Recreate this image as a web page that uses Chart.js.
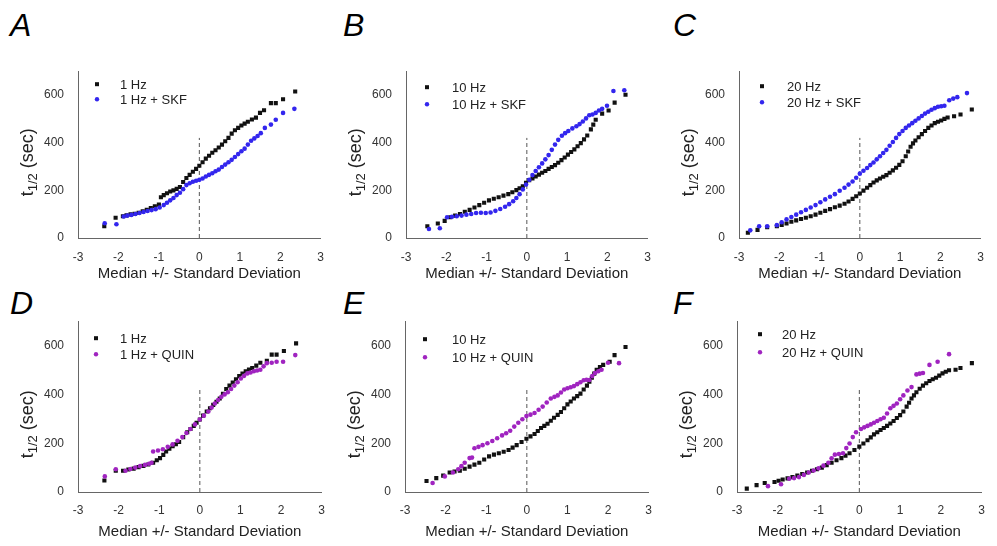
<!DOCTYPE html>
<html>
<head>
<meta charset="utf-8">
<script src="https://cdn.jsdelivr.net/npm/chart.js@4.4.1/dist/chart.umd.min.js"></script>
<style>
  html, body { margin: 0; padding: 0; background: #fff; }
  body { width: 997px; height: 546px; position: relative; overflow: hidden; }
  canvas { position: absolute; }
  .letter { position: absolute; font: italic 32px Arial, "Liberation Sans", sans-serif; line-height: 32px; color: #000; }
</style>
</head>
<body>
<div class="letter" style="left:10px;top:9px">A</div>
<div class="letter" style="left:343px;top:9px">B</div>
<div class="letter" style="left:673px;top:9px">C</div>
<div class="letter" style="left:10px;top:287px">D</div>
<div class="letter" style="left:343px;top:287px">E</div>
<div class="letter" style="left:673px;top:287px">F</div>
<canvas id="cA"></canvas>
<canvas id="cB"></canvas>
<canvas id="cC"></canvas>
<canvas id="cD"></canvas>
<canvas id="cE"></canvas>
<canvas id="cF"></canvas>
<script>
// axis ticks / titles
const xTicks = [-3, -2, -1, 0, 1, 2, 3];
const yTicks = [0, 200, 400, 600];
const xTitle = 'Median +/- Standard Deviation';
const medianX = [0, 0];
const medianY = [0, 420];

// legend labels
const labelsA = ['1 Hz', '1 Hz + SKF'];
const labelsB = ['10 Hz', '10 Hz + SKF'];
const labelsC = ['20 Hz', '20 Hz + SKF'];
const labelsD = ['1 Hz', '1 Hz + QUIN'];
const labelsE = ['10 Hz', '10 Hz + QUIN'];
const labelsF = ['20 Hz', '20 Hz + QUIN'];

// A: 1 Hz vs 1 Hz + SKF
const aCtlX = [-2.35,-2.07,-1.89,-1.80,-1.70,-1.60,-1.50,-1.40,-1.30,-1.20,-1.10,-1.00,-0.95,-0.88,-0.80,-0.72,-0.64,-0.56,-0.48,-0.40,-0.32,-0.24,-0.16,-0.08,0,0.08,0.16,0.24,0.32,0.40,0.48,0.56,0.64,0.72,0.80,0.88,0.96,1.04,1.12,1.20,1.30,1.40,1.50,1.60,1.77,1.89,2.07,2.37];
const aCtlY = [49,85,91,95,99,102,106,112,118,126,133,140,171,180,188,195,200,206,214,235,252,265,278,290,303,318,333,345,358,368,380,392,406,420,438,452,462,472,480,488,497,505,525,536,566,566,582,615];
const aDrugX = [-2.34,-2.05,-1.87,-1.78,-1.68,-1.58,-1.48,-1.38,-1.28,-1.18,-1.08,-0.98,-0.88,-0.80,-0.72,-0.64,-0.56,-0.48,-0.40,-0.32,-0.24,-0.16,-0.08,0,0.08,0.16,0.24,0.32,0.40,0.48,0.56,0.64,0.72,0.80,0.88,0.96,1.04,1.12,1.20,1.28,1.36,1.44,1.52,1.62,1.77,1.89,2.07,2.35];
const aDrugY = [62,58,90,94,97,101,105,109,113,117,121,128,138,148,158,168,180,190,205,222,230,236,240,244,250,258,265,272,280,287,298,308,318,328,340,352,364,375,392,408,418,428,440,462,476,496,525,542];

// B: 10 Hz vs 10 Hz + SKF
const bCtlX = [-2.47,-2.21,-2.04,-1.90,-1.78,-1.66,-1.54,-1.42,-1.30,-1.18,-1.06,-0.94,-0.82,-0.70,-0.58,-0.46,-0.36,-0.26,-0.18,-0.10,-0.02,0.06,0.14,0.22,0.30,0.38,0.46,0.54,0.62,0.70,0.78,0.86,0.94,1.02,1.10,1.18,1.26,1.34,1.42,1.50,1.59,1.65,1.71,1.87,2.03,2.18,2.45];
const bCtlY = [49,61,72,87,94,101,110,118,128,138,148,158,165,171,178,184,192,201,209,217,232,243,250,258,266,274,281,290,298,306,316,327,338,350,361,372,385,398,414,430,456,476,496,522,535,568,601];
const bDrugX = [-2.43,-2.16,-1.98,-1.86,-1.74,-1.62,-1.50,-1.38,-1.26,-1.14,-1.02,-0.90,-0.78,-0.66,-0.54,-0.44,-0.34,-0.26,-0.18,-0.10,-0.02,0.06,0.14,0.22,0.30,0.38,0.46,0.54,0.62,0.70,0.78,0.87,0.95,1.03,1.13,1.23,1.31,1.39,1.47,1.55,1.63,1.71,1.79,1.87,1.99,2.15,2.42];
const bDrugY = [38,41,87,89,91,94,98,101,105,106,105,107,114,122,131,142,154,168,184,204,224,244,264,281,297,313,330,348,370,392,412,429,440,449,460,469,478,489,502,515,518,525,535,542,555,617,620];

// C: 20 Hz vs 20 Hz + SKF
const cCtlX = [-2.78,-2.54,-2.30,-2.06,-1.94,-1.82,-1.70,-1.58,-1.46,-1.34,-1.22,-1.10,-0.98,-0.86,-0.74,-0.62,-0.50,-0.38,-0.28,-0.18,-0.09,0,0.09,0.18,0.26,0.34,0.42,0.50,0.58,0.66,0.74,0.82,0.90,0.98,1.06,1.14,1.20,1.26,1.32,1.38,1.46,1.54,1.62,1.70,1.78,1.86,1.94,2.02,2.10,2.18,2.34,2.50,2.78];
const cCtlY = [22,34,45,49,55,61,68,74,80,85,91,98,106,114,121,129,136,144,153,164,175,187,199,211,222,233,242,250,257,264,274,284,295,307,322,343,363,383,397,409,423,436,449,462,472,482,488,493,500,506,511,518,539];
const cDrugX = [-2.72,-2.50,-2.30,-2.06,-1.94,-1.82,-1.70,-1.58,-1.46,-1.34,-1.22,-1.10,-0.98,-0.86,-0.74,-0.62,-0.50,-0.38,-0.28,-0.18,-0.09,0,0.09,0.18,0.26,0.34,0.42,0.50,0.58,0.66,0.74,0.82,0.90,0.98,1.06,1.14,1.22,1.30,1.38,1.46,1.54,1.62,1.70,1.78,1.86,1.94,2.02,2.10,2.22,2.32,2.42,2.66];
const cDrugY = [32,49,49,54,66,78,88,98,108,118,128,138,150,162,173,184,198,211,224,237,253,270,282,294,306,317,330,343,357,370,387,403,420,436,449,462,472,482,492,502,512,522,530,538,545,551,553,555,578,585,591,608];

// D: 1 Hz vs 1 Hz + QUIN
const dCtlX = [-2.35,-2.07,-1.89,-1.76,-1.63,-1.51,-1.39,-1.27,-1.15,-1.06,-0.98,-0.90,-0.83,-0.75,-0.67,-0.59,-0.51,-0.41,-0.31,-0.23,-0.15,-0.08,0,0.08,0.17,0.25,0.33,0.41,0.49,0.57,0.65,0.73,0.81,0.89,0.97,1.05,1.13,1.21,1.29,1.39,1.49,1.65,1.77,1.89,2.07,2.37];
const dCtlY = [47,87,87,92,96,102,107,113,120,130,139,152,166,177,188,196,205,225,245,258,271,284,297,313,330,343,357,370,383,402,422,436,449,462,475,485,495,502,508,518,530,538,563,563,578,609];
const dDrugX = [-2.34,-2.07,-1.83,-1.71,-1.59,-1.47,-1.35,-1.25,-1.19,-1.15,-1.03,-0.91,-0.79,-0.67,-0.55,-0.43,-0.33,-0.23,-0.12,0,0.10,0.21,0.29,0.37,0.45,0.53,0.61,0.69,0.77,0.85,0.93,1.01,1.09,1.17,1.25,1.33,1.41,1.49,1.57,1.65,1.77,1.89,2.05,2.35];
const dDrugY = [64,93,87,94,100,106,111,116,120,166,170,175,185,195,210,225,242,258,277,297,313,330,346,363,377,390,400,409,422,436,450,465,476,486,490,495,498,501,515,528,530,534,534,561];

// E: 10 Hz vs 10 Hz + QUIN
const eCtlX = [-2.47,-2.23,-2.06,-1.90,-1.78,-1.65,-1.53,-1.41,-1.29,-1.17,-1.05,-0.93,-0.81,-0.69,-0.57,-0.45,-0.35,-0.25,-0.13,-0.01,0.09,0.19,0.27,0.35,0.43,0.51,0.59,0.67,0.76,0.84,0.92,1.00,1.08,1.16,1.24,1.32,1.40,1.48,1.54,1.60,1.66,1.72,1.80,1.88,2.04,2.16,2.43];
const eCtlY = [45,57,67,80,84,87,95,104,112,120,133,146,153,159,165,172,182,192,205,218,228,238,250,262,271,280,292,304,316,328,343,359,371,383,393,403,420,436,452,468,485,501,512,521,534,561,594];
const eDrugX = [-2.32,-2.02,-1.82,-1.69,-1.61,-1.53,-1.41,-1.35,-1.29,-1.19,-1.09,-0.97,-0.85,-0.73,-0.61,-0.51,-0.41,-0.31,-0.21,-0.11,-0.01,0.09,0.19,0.29,0.39,0.49,0.59,0.68,0.76,0.84,0.92,1.00,1.08,1.16,1.24,1.32,1.40,1.47,1.54,1.61,1.68,1.76,1.84,2.00,2.27];
const eDrugY = [37,64,80,93,106,120,139,141,179,185,192,200,209,220,232,241,251,268,284,298,311,317,324,337,350,367,383,390,396,408,420,425,429,434,442,450,458,460,459,475,488,495,501,530,528];

// F: 20 Hz vs 20 Hz + QUIN
const fCtlX = [-2.76,-2.52,-2.32,-2.08,-1.98,-1.88,-1.76,-1.64,-1.52,-1.40,-1.28,-1.16,-1.04,-0.92,-0.80,-0.68,-0.56,-0.44,-0.34,-0.24,-0.12,0,0.10,0.20,0.28,0.36,0.44,0.52,0.60,0.68,0.76,0.84,0.92,1.00,1.08,1.16,1.22,1.28,1.34,1.40,1.48,1.56,1.64,1.72,1.80,1.88,1.96,2.04,2.12,2.20,2.36,2.48,2.76];
const fCtlY = [14,28,37,41,46,51,56,61,67,74,80,87,93,100,110,120,130,139,149,159,172,186,199,212,224,236,245,254,262,271,281,291,303,315,330,350,366,383,396,409,423,436,446,455,462,468,477,486,493,499,501,508,528];
const fDrugX = [-2.24,-1.92,-1.72,-1.60,-1.48,-1.36,-1.24,-1.12,-1.00,-0.88,-0.76,-0.68,-0.60,-0.50,-0.40,-0.32,-0.24,-0.16,-0.08,0.04,0.12,0.20,0.28,0.36,0.44,0.52,0.60,0.68,0.76,0.84,0.92,1.00,1.08,1.18,1.28,1.40,1.48,1.56,1.72,1.92,2.20];
const fDrugY = [24,32,54,57,61,70,80,88,97,108,120,138,153,156,159,180,199,225,245,258,265,271,277,284,291,298,304,322,343,353,363,380,396,416,430,482,485,488,521,534,565];

const BLACK = '#111111';
const BLUE = '#3326ee';
const PURPLE = '#a024c0';
const FONT = 'Arial, "Liberation Sans", sans-serif';

Chart.defaults.font.family = FONT;

const toPoints = (xs, ys) => xs.map((x, i) => ({ x: x, y: ys[i] }));

// y title with subscript + legend drawn inside the plot
const panelText = {
  id: 'panelText',
  afterDraw(chart, args, o) {
    const { ctx, chartArea: a } = chart;
    ctx.save();
    ctx.fillStyle = '#222';
    ctx.translate(a.left - o.titleDx, a.top + o.titleDy);
    ctx.rotate(-Math.PI / 2);
    ctx.textBaseline = 'alphabetic';
    const big = '18px ' + FONT, small = '13px ' + FONT;
    ctx.font = big;
    const w1 = ctx.measureText('t').width;
    const w3 = ctx.measureText(' (sec)').width;
    ctx.font = small;
    const w2 = ctx.measureText('1/2').width;
    let x = -(w1 + w2 + w3) / 2;
    ctx.font = big; ctx.fillText('t', x, 6); x += w1;
    ctx.font = small; ctx.fillText('1/2', x, 10); x += w2;
    ctx.font = big; ctx.fillText(' (sec)', x, 6);
    ctx.restore();

    ctx.save();
    ctx.font = '13px ' + FONT;
    ctx.textBaseline = 'middle';
    o.items.forEach((it, i) => {
      const y = a.top + o.legendDy[i];
      const mx = a.left + o.markDx;
      ctx.fillStyle = it.color;
      if (it.style === 'rect') {
        ctx.fillRect(mx - 2, y - 2, 4, 4);
      } else {
        ctx.beginPath(); ctx.arc(mx, y, 2.2, 0, Math.PI * 2); ctx.fill();
      }
      ctx.fillStyle = '#222';
      ctx.fillText(it.label, a.left + o.textDx, y + 1);
    });
    ctx.restore();
  }
};

function makePanel(p) {
  const cv = document.getElementById(p.id);
  const left = p.area.l - 78;
  const right = p.area.r + 8 > 997 ? 997 : p.area.r + 8;
  cv.width = right - left;
  cv.height = p.row.bottom - p.row.top;
  cv.style.left = left + 'px';
  cv.style.top = p.row.top + 'px';
  cv.style.width = cv.width + 'px';
  cv.style.height = cv.height + 'px';

  const series = [
    { label: p.labels[0], x: p.ctl[0], y: p.ctl[1], color: BLACK, style: 'rect', r: 2.9, order: 1 },
    { label: p.labels[1], x: p.drug[0], y: p.drug[1], color: p.color, style: 'circle', r: 2.3, order: 0 }
  ];

  const datasets = series.map(s => ({
    label: s.label,
    data: toPoints(s.x, s.y),
    pointStyle: s.style,
    pointRadius: s.r,
    pointHoverRadius: s.r,
    pointBorderWidth: 0,
    backgroundColor: s.color,
    borderColor: s.color,
    order: s.order
  }));
  datasets.push({
    label: 'median',
    data: toPoints(medianX, medianY),
    showLine: true,
    pointRadius: 0,
    borderColor: '#555',
    borderWidth: 1,
    borderDash: [4, 3],
    order: 2
  });

  new Chart(cv, {
    type: 'scatter',
    data: { datasets: datasets },
    options: {
      responsive: false,
      animation: false,
      events: [],
      layout: { padding: { top: p.area.t - p.row.top, right: right - p.area.r, left: 0, bottom: 0 } },
      plugins: {
        legend: { display: false },
        tooltip: { enabled: false },
        panelText: {
          titleDx: 51, titleDy: p.row.titleDy,
          markDx: p.leg.m, textDx: p.leg.t, legendDy: p.leg.dy,
          items: series
        }
      },
      scales: {
        x: {
          type: 'linear', min: -3, max: 3,
          afterBuildTicks: s => { s.ticks = xTicks.map(v => ({ value: v })); },
          afterFit: s => { s.height = p.row.bottom - p.area.b; },
          grid: { display: false, drawTicks: false },
          border: { color: '#666', width: 1 },
          ticks: { color: '#333', font: { size: 12 }, padding: p.row.tickPad, maxRotation: 0, autoSkip: false },
          title: { display: true, text: xTitle, color: '#222', font: { size: 15 }, padding: { top: 0, bottom: 1 } }
        },
        y: {
          type: 'linear', min: 0, max: 700,
          afterBuildTicks: s => { s.ticks = yTicks.map(v => ({ value: v })); },
          afterFit: s => { s.width = p.area.l - left; },
          grid: { display: false, drawTicks: false },
          border: { color: '#666', width: 1 },
          ticks: { color: '#333', font: { size: 12 }, padding: 14 }
        }
      }
    },
    plugins: [panelText]
  });
}

const row1 = { top: 50, bottom: 284, tickPad: 12, titleDy: 91 };
const row2 = { top: 300, bottom: 542, tickPad: 11, titleDy: 103 };

makePanel({ id: 'cA', area: { l: 78, r: 328, t: 62, b: 238 }, row: row1, labels: labelsA, ctl: [aCtlX, aCtlY], drug: [aDrugX, aDrugY], color: BLUE, leg: { m: 19, t: 42, dy: [13, 28] } });
makePanel({ id: 'cB', area: { l: 406, r: 655, t: 62, b: 238 }, row: row1, labels: labelsB, ctl: [bCtlX, bCtlY], drug: [bDrugX, bDrugY], color: BLUE, leg: { m: 21, t: 46, dy: [16, 33] } });
makePanel({ id: 'cC', area: { l: 739, r: 988, t: 62, b: 238 }, row: row1, labels: labelsC, ctl: [cCtlX, cCtlY], drug: [cDrugX, cDrugY], color: BLUE, leg: { m: 23, t: 48, dy: [15, 31] } });
makePanel({ id: 'cD', area: { l: 78, r: 328, t: 315, b: 492 }, row: row2, labels: labelsD, ctl: [dCtlX, dCtlY], drug: [dDrugX, dDrugY], color: PURPLE, leg: { m: 18, t: 42, dy: [17, 33] } });
makePanel({ id: 'cE', area: { l: 405, r: 655, t: 315, b: 492 }, row: row2, labels: labelsE, ctl: [eCtlX, eCtlY], drug: [eDrugX, eDrugY], color: PURPLE, leg: { m: 20, t: 47, dy: [18, 36] } });
makePanel({ id: 'cF', area: { l: 737, r: 988, t: 315, b: 492 }, row: row2, labels: labelsF, ctl: [fCtlX, fCtlY], drug: [fDrugX, fDrugY], color: PURPLE, leg: { m: 23, t: 45, dy: [13, 31] } });
</script>
</body>
</html>
